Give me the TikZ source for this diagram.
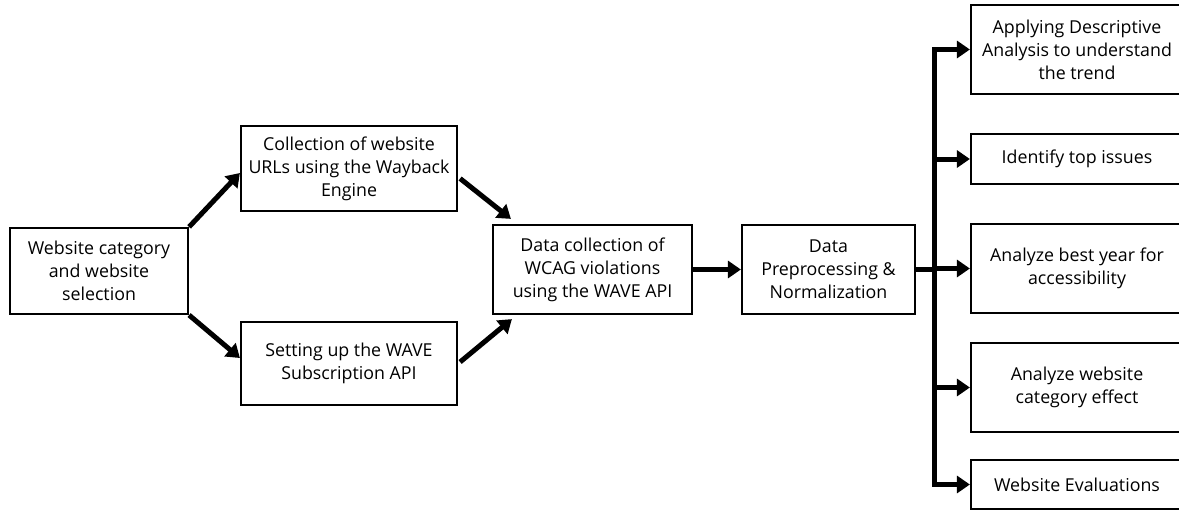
\documentclass[tikz,border=0pt]{standalone}
\usepackage{fontspec}
\setmainfont{Open Sans}
\usetikzlibrary{arrows.meta,calc}
\begin{document}
\begin{tikzpicture}[x=1pt,y=-1pt,
 box/.style={draw, line width=2.2pt, align=center, inner sep=0pt, font=\fontsize{17.8}{23}\selectfont},
 arr/.style={line width=5pt, -{Triangle[length=13pt,width=17pt]}},
 trunk/.style={line width=5pt, line cap=rect}]
\useasboundingbox (0,0) rectangle (1179,512);
\node[box, minimum width=178pt, minimum height=86pt] (a) at (99,271) {Website category\\and website\\selection};
\node[box, minimum width=216pt, minimum height=85pt] (b) at (349,168.5) {Collection of website\\URLs using the Wayback\\Engine};
\node[box, minimum width=216pt, minimum height=83pt] (c) at (349,363.5) {Setting up the WAVE\\Subscription API};
\node[box, minimum width=199pt, minimum height=89pt] (d) at (592.5,269.5) {Data collection of\\WCAG violations\\using the WAVE API};
\node[box, minimum width=173pt, minimum height=89pt] (e) at (828.5,269.5) {Data\\Preprocessing \&\\Normalization};
\node[box, minimum width=212pt, minimum height=89pt] (r1) at (1077,49.5) {Applying Descriptive\\Analysis to understand\\the trend};
\node[box, minimum width=212pt, minimum height=50pt] (r2) at (1077,159) {Identify top issues};
\node[box, minimum width=212pt, minimum height=89pt] (r3) at (1077,268.5) {Analyze best year for\\accessibility};
\node[box, minimum width=212pt, minimum height=89pt] (r4) at (1077,387.5) {Analyze website\\category effect};
\node[box, minimum width=212pt, minimum height=49pt] (r5) at (1077,484.5) {Website Evaluations};
\coordinate (tx) at (934,0);
\draw[arr] (a.north east) -- ($(b.west)+(0,4.5)$);
\draw[arr] (a.south east) -- ($(c.west)+(0,-5.5)$);
\draw[arr] ($(b.east)+(2,10)$) -- ($(d.north west)+(19,-5)$);
\draw[arr] ($(c.east)+(2,-1.5)$) -- ($(d.south west)+(20,4)$);
\draw[arr] (d.east) -- (e.west);
\draw[trunk] (tx |- r1.west) -- (tx |- r5.west);
\draw[line width=5pt] (e.east) -- (tx |- e.east);
\foreach \r in {r1,r2,r3,r4,r5} {\draw[arr] (tx |- \r.west) -- (\r.west);}
\end{tikzpicture}
\end{document}
